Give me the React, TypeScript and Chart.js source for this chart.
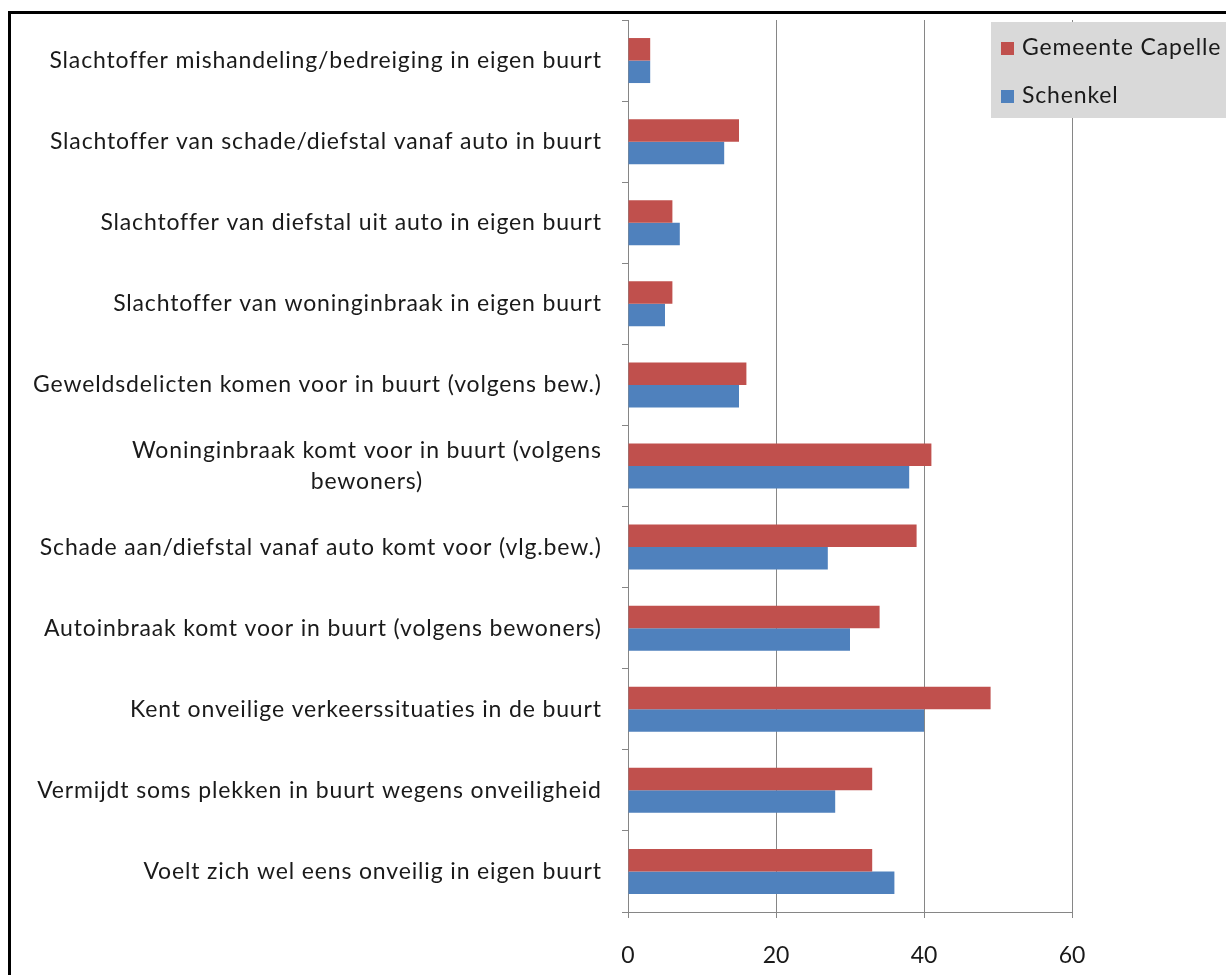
import React, { useEffect, useRef } from "react";
import { Chart, registerables } from "chart.js";

Chart.register(...registerables);

const categories: (string | string[])[] = [
  "Slachtoffer mishandeling/bedreiging in eigen buurt",
  "Slachtoffer van schade/diefstal vanaf auto in buurt",
  "Slachtoffer van diefstal uit auto in eigen buurt",
  "Slachtoffer van woninginbraak in eigen buurt",
  "Geweldsdelicten komen voor in buurt (volgens bew.)",
  ["Woninginbraak komt voor in buurt (volgens", "bewoners)"],
  "Schade aan/diefstal vanaf auto komt voor (vlg.bew.)",
  "Autoinbraak komt voor in buurt (volgens bewoners)",
  "Kent onveilige verkeerssituaties in de buurt",
  "Vermijdt soms plekken in buurt wegens onveiligheid",
  "Voelt zich wel eens onveilig in eigen buurt",
];

const gemeenteCapelle = [3, 15, 6, 6, 16, 41, 39, 34, 49, 33, 33];
const schenkel = [3, 13, 7, 5, 15, 38, 27, 30, 40, 28, 36];

const seriesNames = ["Gemeente Capelle", "Schenkel"];
const seriesColors = ["#C0504D", "#4F81BD"];

const xMin = 0;
const xMax = 60;
const xStep = 20;

const FONT = "Lato, 'Open Sans', sans-serif";
const FONT_SIZE = 23;
const LS = 0.85;
const LETTER_SPACING = `${LS}px`;
const TEXT_COLOR = "#1a1a1a";
const GRID_COLOR = "#868686";

const W = 1226;
const H = 975;

const yLabelsPlugin = {
  id: "yLabelsCentered",
  afterDraw(chart: any) {
    const ctx = chart.ctx;
    const yScale = chart.scales.y;
    const area = chart.chartArea;
    const rightX = area.left - 27;
    const lineH = 31;
    ctx.save();
    ctx.font = `${FONT_SIZE}px ${FONT}`;
    (ctx as any).letterSpacing = LETTER_SPACING;
    ctx.fillStyle = TEXT_COLOR;
    ctx.textBaseline = "middle";
    ctx.textAlign = "left";
    categories.forEach((lab, i) => {
      const lines = Array.isArray(lab) ? lab : [lab];
      const y = yScale.getPixelForValue(i);
      const widths = lines.map((l) => ctx.measureText(l).width - LS);
      const maxW = Math.max(...widths);
      const cx = rightX - maxW / 2;
      const startY = y - ((lines.length - 1) * lineH) / 2;
      lines.forEach((l, j) => {
        ctx.fillText(l, cx - widths[j] / 2, startY + j * lineH);
      });
    });
    ctx.restore();
  },
};

const legendPlugin = {
  id: "boxLegend",
  afterDraw(chart: any) {
    const ctx = chart.ctx;
    ctx.save();
    ctx.fillStyle = "#D9D9D9";
    ctx.fillRect(991, 22, W - 991, 96);
    ctx.font = `${FONT_SIZE}px ${FONT}`;
    (ctx as any).letterSpacing = LETTER_SPACING;
    ctx.textBaseline = "middle";
    ctx.textAlign = "left";
    const rows = [48, 96];
    seriesNames.forEach((name, i) => {
      const cy = rows[i];
      ctx.fillStyle = seriesColors[i];
      ctx.fillRect(1001, cy - 6, 13, 13);
      ctx.fillStyle = TEXT_COLOR;
      ctx.fillText(name, 1022, cy);
    });
    ctx.restore();
  },
};

export default function App() {
  const canvasRef = useRef<HTMLCanvasElement | null>(null);

  useEffect(() => {
    if (!canvasRef.current) return;
    const chart = new Chart(canvasRef.current, {
      type: "bar",
      data: {
        labels: categories as any,
        datasets: [
          {
            label: seriesNames[0],
            data: gemeenteCapelle,
            backgroundColor: seriesColors[0],
            borderWidth: 0,
            categoryPercentage: 0.555,
            barPercentage: 1,
          },
          {
            label: seriesNames[1],
            data: schenkel,
            backgroundColor: seriesColors[1],
            borderWidth: 0,
            categoryPercentage: 0.555,
            barPercentage: 1,
          },
        ],
      },
      options: {
        indexAxis: "y",
        responsive: false,
        animation: false,
        devicePixelRatio: 1,
        layout: { padding: { top: 20, right: W - 1072, left: 0, bottom: 0 } },
        plugins: {
          legend: { display: false },
          tooltip: { enabled: false },
          title: { display: false },
        },
        scales: {
          x: {
            type: "linear",
            position: "bottom",
            min: xMin,
            max: xMax,
            ticks: {
              stepSize: xStep,
              padding: 24,
              color: TEXT_COLOR,
              font: { family: FONT, size: FONT_SIZE },
            },
            grid: {
              color: GRID_COLOR,
              lineWidth: 1,
              tickLength: 6,
              drawTicks: true,
            },
            border: { color: GRID_COLOR, width: 1 },
            afterFit: (scale: any) => {
              scale.height = H - 912;
            },
          },
          y: {
            type: "category",
            offset: true,
            ticks: { display: false },
            grid: {
              offset: true,
              drawOnChartArea: false,
              drawTicks: true,
              tickLength: 6,
              color: GRID_COLOR,
            },
            border: { color: GRID_COLOR, width: 1 },
            afterFit: (scale: any) => {
              scale.width = 628;
            },
          },
        },
      },
      plugins: [yLabelsPlugin, legendPlugin],
    } as any);
    return () => chart.destroy();
  }, []);

  return (
    <div
      style={{
        position: "fixed",
        left: 0,
        top: 0,
        width: W,
        height: H,
        overflow: "hidden",
        background: "#ffffff",
      }}
    >
      <div
        style={{
          position: "absolute",
          left: 8,
          top: 11,
          width: W + 100,
          height: H + 100,
          borderLeft: "3px solid #000",
          borderTop: "3px solid #000",
          boxSizing: "border-box",
        }}
      />
      <canvas
        ref={canvasRef}
        width={W}
        height={H}
        style={{ position: "absolute", left: 0, top: 0, width: W, height: H }}
      />
    </div>
  );
}
